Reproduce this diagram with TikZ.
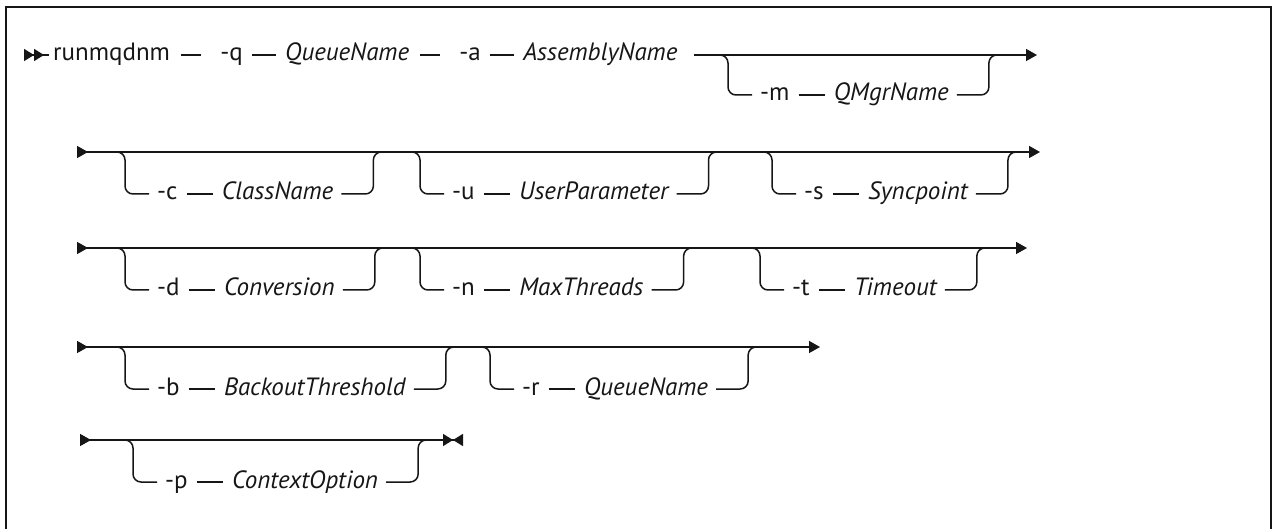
\documentclass[tikz,border=0pt]{standalone}
\usepackage{fontspec}
\setmainfont{PT Sans}
\usepackage{xcolor}
\usetikzlibrary{arrows.meta,positioning}

\definecolor{ink}{HTML}{161616}

% optional branch below a rail: #1 rail coordinate, #2 first node, #3 last node
\newcommand{\optbranch}[3]{%
  \draw[rail,rounded corners=8pt] ([xshift=-40pt]#2.west |- #1) -- ([xshift=-32pt]#2.west |- #1) |- ([xshift=-8pt]#2.west);
  \draw[rail,rounded corners=8pt] ([xshift=8pt]#3.east) -| ([xshift=40pt]#3.east |- #1) -- ([xshift=48pt]#3.east |- #1);
}

\begin{document}
\begin{tikzpicture}[
  x=1pt,y=-1pt,
  font=\fontsize{25}{29}\selectfont,
  rail/.style={draw=ink,line width=1.5pt},
  link/.style={rail,shorten <=9pt,shorten >=9pt},
  wide link/.style={rail,shorten <=11pt,shorten >=19pt},
  word/.style={inner sep=0pt,text height=18pt,text depth=6pt,text=ink},
  flag/.style={word},
  arg/.style={word,font=\fontsize{25}{29}\selectfont\itshape},
  tipin/.style={rail,{Triangle[reversed,length=11pt,width=12pt]}-{Triangle[length=11pt,width=12pt]}},
  node distance=44pt
]
\useasboundingbox (0,0) rectangle (1274,529);
\draw[ink,line width=2.5pt] (6,529) -- (6,7) -- (1271,7) -- (1271,529);

% row 1
\coordinate (r1) at (0,55);
\coordinate (s1) at (24,55);
\coordinate (e1) at (1037,55);
\node[flag,anchor=west] (cmd) at (53,55) {runmqdnm};
\node[flag,right=50pt of cmd] (q) {-q};
\node[arg,right=42pt of q] (qname) {QueueName};
\node[flag,right=50pt of qname] (a) {-a};
\node[arg,right=42pt of a] (aname) {AssemblyName};
\node[flag,anchor=west] (m) at (760,95) {-m};
\node[arg,right=of m] (mgr) {QMgrName};

\draw[rail,{Triangle[reversed,length=10pt,width=12pt]Triangle[reversed,length=10pt,width=12pt]}-,shorten >=4pt] (s1) -- (cmd);
\draw[wide link] (cmd) -- (q);
\draw[link] (q) -- (qname);
\draw[wide link] (qname) -- (a);
\draw[link] (a) -- (aname);
\draw[rail,-{Triangle[length=11pt,width=12pt]}] ([xshift=16pt]aname.east) -- (e1);
\draw[link] (m) -- (mgr);
\optbranch{r1}{m}{mgr}

% row 2
\coordinate (r2) at (0,152);
\coordinate (s2) at (77,152);
\coordinate (e2) at (1040,152);
\node[flag,anchor=west] (c) at (157,194) {-c};
\node[arg,right=of c] (cname) {ClassName};
\node[flag,anchor=west] (u) at (452,194) {-u};
\node[arg,right=of u] (uparm) {UserParameter};
\node[flag,anchor=west] (s) at (804,194) {-s};
\node[arg,right=of s] (sync) {Syncpoint};

\draw[tipin] (s2) -- (e2);
\draw[link] (c) -- (cname);
\draw[link] (u) -- (uparm);
\draw[link] (s) -- (sync);
\optbranch{r2}{c}{cname}
\optbranch{r2}{u}{uparm}
\optbranch{r2}{s}{sync}

% row 3
\coordinate (r3) at (0,248);
\coordinate (s3) at (77,248);
\coordinate (e3) at (1027,248);
\node[flag,anchor=west] (d) at (157,290) {-d};
\node[arg,right=of d] (conv) {Conversion};
\node[flag,anchor=west] (n) at (452,290) {-n};
\node[arg,right=of n] (maxt) {MaxThreads};
\node[flag,anchor=west] (t) at (792,290) {-t};
\node[arg,right=of t] (tout) {Timeout};

\draw[tipin] (s3) -- (e3);
\draw[link] (d) -- (conv);
\draw[link] (n) -- (maxt);
\draw[link] (t) -- (tout);
\optbranch{r3}{d}{conv}
\optbranch{r3}{n}{maxt}
\optbranch{r3}{t}{tout}

% row 4
\coordinate (r4) at (0,347);
\coordinate (s4) at (77,347);
\coordinate (e4) at (820,347);
\node[flag,anchor=west] (b) at (157,389) {-b};
\node[arg,right=of b] (bthr) {BackoutThreshold};
\node[flag,anchor=west] (r) at (522,389) {-r};
\node[arg,right=of r] (rname) {QueueName};

\draw[tipin] (s4) -- (e4);
\draw[link] (b) -- (bthr);
\draw[link] (r) -- (rname);
\optbranch{r4}{b}{bthr}
\optbranch{r4}{r}{rname}

% row 5
\coordinate (r5) at (0,440);
\coordinate (s5) at (80,440);
\coordinate (e5) at (463,440);
\node[flag,anchor=west] (p) at (165,482) {-p};
\node[arg,right=of p] (ctx) {ContextOption};

\draw[rail,{Triangle[reversed,length=11pt,width=12pt]}-{Triangle[length=10pt,width=12pt]Triangle[reversed,length=10pt,width=12pt]}] (s5) -- (e5);
\draw[link] (p) -- (ctx);
\optbranch{r5}{p}{ctx}
\end{tikzpicture}
\end{document}
